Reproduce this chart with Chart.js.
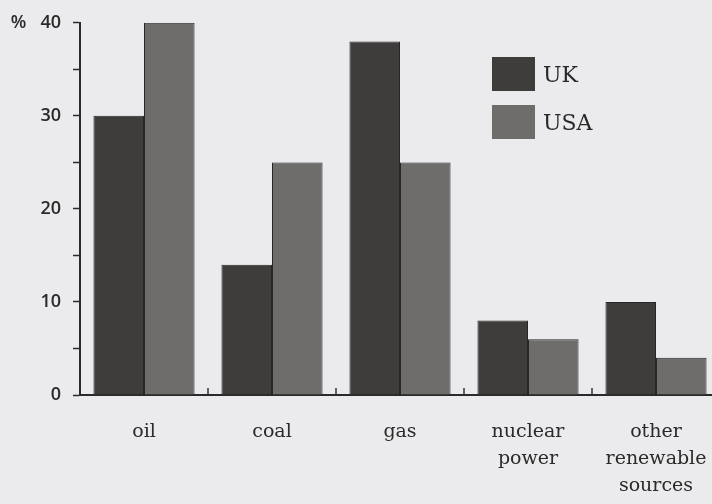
<!DOCTYPE html>
<html>
<head>
<meta charset="utf-8">
<title>Energy sources UK / USA</title>
<script src="https://cdn.jsdelivr.net/npm/chart.js@4.4.1/dist/chart.umd.min.js"></script>
<style>
    html, body { margin: 0; padding: 0; background: #ebebed; overflow: hidden; width: 712px; height: 504px; }
    #wrap { position: relative; width: 712px; height: 504px; overflow: hidden; }
    #grafico { display: block; width: 720px; height: 504px; }
    #legend { position: absolute; left: 492px; top: 57px; font-family: "DejaVu Serif", serif; font-size: 22px; color: #2a2a2a; }
    #legend .item { display: flex; align-items: center; height: 34px; margin-bottom: 14px; }
    #legend .box { width: 43px; height: 34px; margin-right: 8px; box-sizing: border-box; }
</style>
</head>
<body>
<div id="wrap">
    <canvas id="grafico" width="720" height="504"></canvas>
    <div id="legend"></div>
</div>
<script>
// datos
const categorias = ["oil", "coal", "gas", ["nuclear", "power"], ["other", "renewable", "sources"]];
const valoresUK = [30, 14, 38, 8, 10];
const valoresUSA = [40, 25, 25, 6, 4];
const etiquetasY = [0, 10, 20, 30, 40];

// marcas pequeñas entre categorias sobre el eje x
const marcasEntreCategorias = {
    id: "marcasEntreCategorias",
    afterDatasetsDraw(chart) {
        const x = chart.scales.x;
        const ctx = chart.ctx;
        const bottom = chart.chartArea.bottom;
        ctx.save();
        ctx.strokeStyle = "#333";
        ctx.lineWidth = 1.5;
        for (let i = 1; i < categorias.length; i++) {
            const px = (x.getPixelForTick(i - 1) + x.getPixelForTick(i)) / 2;
            ctx.beginPath();
            ctx.moveTo(px, bottom);
            ctx.lineTo(px, bottom - 7);
            ctx.stroke();
        }
        ctx.restore();
    }
};

const chart = new Chart(document.getElementById("grafico"), {
    type: "bar",
    data: {
        labels: categorias,
        datasets: [
            {
                label: "UK",
                data: valoresUK,
                backgroundColor: "#3e3d3b",
                borderColor: "#262626",
                borderWidth: 1
            },
            {
                label: "USA",
                data: valoresUSA,
                backgroundColor: "#6f6d6b",
                borderColor: "#262626",
                borderWidth: 1
            }
        ]
    },
    options: {
        responsive: false,
        animation: false,
        layout: { padding: { top: 21, right: 0, left: 0, bottom: 0 } },
        plugins: {
            legend: { display: false },
            tooltip: { enabled: false }
        },
        datasets: {
            bar: { barPercentage: 1, categoryPercentage: 0.79 }
        },
        scales: {
            x: {
                grid: { display: false, drawTicks: false },
                border: { display: true, color: "#2a2a2a", width: 2 },
                ticks: {
                    color: "#2a2a2a",
                    padding: 24,
                    maxRotation: 0,
                    font: { family: "DejaVu Serif", size: 19, lineHeight: 1.42 }
                },
                afterFit(scale) {
                    scale.height = 109;
                    scale.paddingLeft = 0;
                    scale.paddingRight = 0;
                }
            },
            y: {
                min: 0,
                max: 40,
                grid: { drawOnChartArea: false, drawTicks: true, tickLength: 7, color: "#2a2a2a", tickWidth: 1.5 },
                border: { display: true, color: "#2a2a2a", width: 2 },
                ticks: {
                    stepSize: 5,
                    color: "#2a2a2a",
                    padding: 12,
                    font: { family: "Open Sans", size: 18, weight: "600" },
                    callback: function (v) {
                        if (!etiquetasY.includes(v)) return "";
                        return v === 40 ? "%   " + v : String(v);
                    }
                },
                afterFit(scale) { scale.width = 80; }
            }
        }
    },
    plugins: [marcasEntreCategorias]
});

// leyenda en html a partir de los datasets
let html = "";
chart.data.datasets.forEach(ds => {
    html += `<div class="item"><div class="box" style="background:${ds.backgroundColor}"></div><span>${ds.label}</span></div>`;
});
document.getElementById("legend").innerHTML = html;
</script>
</body>
</html>
